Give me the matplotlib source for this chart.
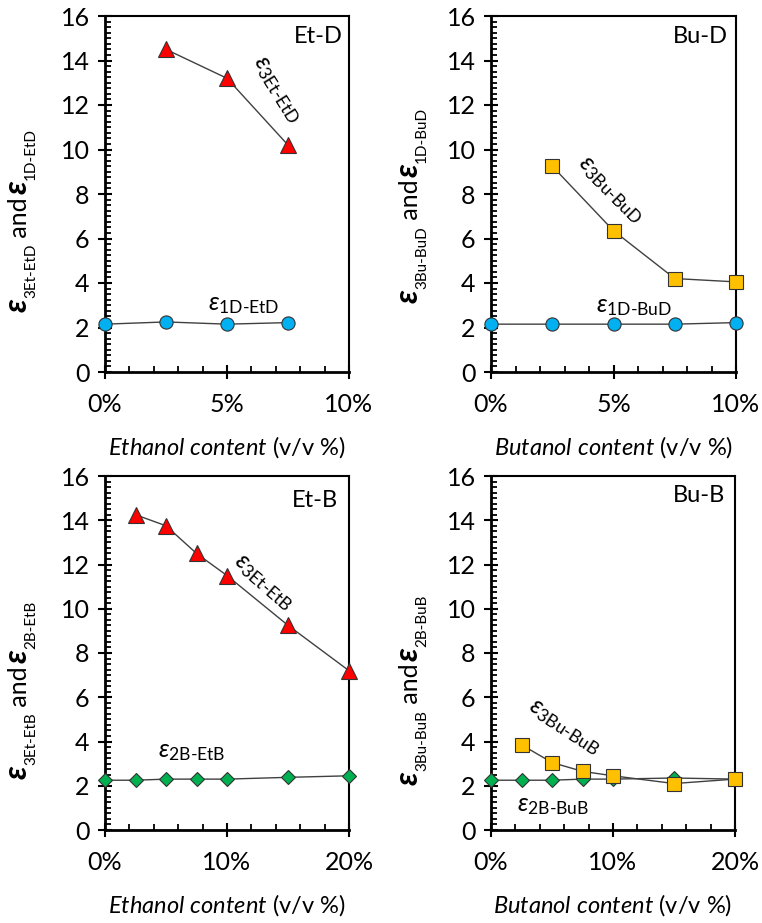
import numpy as np
import matplotlib
matplotlib.use("Agg")
import matplotlib.pyplot as plt
from matplotlib.ticker import MultipleLocator, FuncFormatter

plt.rcParams['font.family'] = ['Lato', 'DejaVu Sans']
plt.rcParams['mathtext.fontset'] = 'custom'
plt.rcParams['mathtext.rm'] = 'Lato'
plt.rcParams['mathtext.it'] = 'Lato:italic'
plt.rcParams['mathtext.bf'] = 'Lato:bold'

# ---- data ----
x_d = [0, 2.5, 5, 7.5, 10]
x_b = [0, 2.5, 5, 7.5, 10, 15, 20]

etd_x3 = [2.5, 5, 7.5]
etd_e3 = [14.5, 13.2, 10.2]
etd_x1 = [0, 2.5, 5, 7.5]
etd_e1 = [2.15, 2.25, 2.15, 2.22]

bud_x3 = [2.5, 5, 7.5, 10]
bud_e3 = [9.25, 6.35, 4.2, 4.05]
bud_e1 = [2.15, 2.15, 2.15, 2.15, 2.22]

etb_x3 = [2.5, 5, 7.5, 10, 15, 20]
etb_e3 = [14.25, 13.75, 12.5, 11.5, 9.25, 7.2]
etb_e2 = [2.25, 2.25, 2.3, 2.3, 2.3, 2.38, 2.45]

bub_x3 = [2.5, 5, 7.5, 10, 15, 20]
bub_e3 = [3.85, 3.05, 2.65, 2.45, 2.1, 2.3]
bub_e2 = [2.25, 2.25, 2.25, 2.3, 2.3, 2.35, 2.3]

RED = '#FF0000'
BLUE = '#00B0F0'
GOLD = '#FFC000'
GREEN = '#00B050'
LINE = '#404040'

W, H = 762, 923
fig = plt.figure(figsize=(W/100, H/100), dpi=100)
renderer = fig.canvas.get_renderer()

pos = {
    'tl': [105/W, 1-372/H, 244/W, 356/H],
    'tr': [491/W, 1-372/H, 245/W, 356/H],
    'bl': [105/W, 1-830/H, 244/W, 354/H],
    'br': [491/W, 1-830/H, 244/W, 354/H],
}


def eps(sub):
    return r'$\varepsilon_{\text{%s}}$' % sub


def vlabel(xb, yc, sub3, sub2):
    # vertical y label built from pieces: big eps, small subscript, "and"
    pieces = [('\u03b5', 23, 0, 'italic', 'bold'),
              (sub3, 11, 8, 'normal', 'normal'),
              (' and', 18, 0, 'normal', 'normal'),
              (' ', 8, 0, 'normal', 'normal'),
              ('\u03b5', 23, 0, 'italic', 'bold'),
              (sub2, 11, 8, 'normal', 'normal')]
    lens = []
    for s, fs, dx, st, wt in pieces:
        t = fig.text(0, 0, s.replace(' ', '\u00a0'), fontsize=fs, style=st, weight=wt)
        lens.append(t.get_window_extent(renderer).width)
        t.remove()
    y = yc + sum(lens) / 2
    for (s, fs, dx, st, wt), L in zip(pieces, lens):
        fig.text((xb + dx) / W, 1 - y / H, s.replace(' ', '\u00a0'), fontsize=fs,
                 style=st, weight=wt, rotation=90, rotation_mode='anchor',
                 ha='left', va='baseline')
        y -= L


def style_axis(ax, xmax, xmajor, xminor, alcohol):
    ax.set_xlim(0, xmax)
    ax.set_ylim(0, 16)
    ax.xaxis.set_major_locator(MultipleLocator(xmajor))
    ax.xaxis.set_minor_locator(MultipleLocator(xminor))
    ax.yaxis.set_major_locator(MultipleLocator(2))
    ax.yaxis.set_minor_locator(MultipleLocator(0.25))
    ax.xaxis.set_major_formatter(FuncFormatter(lambda v, p: '%d%%' % round(v)))
    ax.tick_params(which='major', direction='inout', length=10, width=1.5,
                   labelsize=18, color='black')
    ax.tick_params(which='minor', direction='in', length=4.5, width=1.3)
    ax.tick_params(axis='x', which='major', pad=10)
    ax.tick_params(axis='y', which='major', pad=6)
    for s in ['left', 'bottom']:
        ax.spines[s].set_linewidth(2)
    for s in ['top', 'right']:
        ax.spines[s].set_linewidth(1.5)
    ax.set_xlabel(r'$\mathit{%s\ content}$ (v/v %%)' % alcohol, fontsize=17, labelpad=13)


def series(ax, x, y, marker, color, ms):
    ax.plot(x, y, color=LINE, lw=1.0, marker=marker, ms=ms, mfc=color,
            mec='#333333', mew=0.8, clip_on=False, zorder=5)


# Et-D
ax = fig.add_axes(pos['tl'])
series(ax, etd_x3, etd_e3, '^', RED, 11)
series(ax, etd_x1, etd_e1, 'o', BLUE, 9.5)
style_axis(ax, 10, 5, 1, 'Ethanol')
vlabel(27, 220, '3Et-EtD', '1D-EtD')
ax.text(9.75, 15.1, 'Et-D', ha='right', va='center', fontsize=17)
ax.text(7.05, 12.7, eps('3Et-EtD'), rotation=-58, ha='center', va='center', fontsize=18)
ax.text(5.7, 3.05, eps('1D-EtD'), ha='center', va='center', fontsize=18)

# Bu-D
ax = fig.add_axes(pos['tr'])
series(ax, bud_x3, bud_e3, 's', GOLD, 10)
series(ax, x_d, bud_e1, 'o', BLUE, 9.5)
style_axis(ax, 10, 5, 1, 'Butanol')
vlabel(418, 205, '3Bu-BuD', '1D-BuD')
ax.text(9.65, 15.1, 'Bu-D', ha='right', va='center', fontsize=17)
ax.text(4.9, 8.2, eps('3Bu-BuD'), rotation=-45, ha='center', va='center', fontsize=18)
ax.text(5.85, 2.95, eps('1D-BuD'), ha='center', va='center', fontsize=18)

# Et-B
ax = fig.add_axes(pos['bl'])
series(ax, etb_x3, etb_e3, '^', RED, 11)
series(ax, x_b, etb_e2, 'D', GREEN, 7.5)
style_axis(ax, 20, 10, 2, 'Ethanol')
vlabel(27, 690, '3Et-EtB', '2B-EtB')
ax.text(19.1, 14.9, 'Et-B', ha='right', va='center', fontsize=17)
ax.text(13.0, 11.2, eps('3Et-EtB'), rotation=-41, ha='center', va='center', fontsize=18)
ax.text(7.1, 3.55, eps('2B-EtB'), ha='center', va='center', fontsize=18)

# Bu-B
ax = fig.add_axes(pos['br'])
series(ax, x_b, bub_e2, 'D', GREEN, 7.5)
series(ax, bub_x3, bub_e3, 's', GOLD, 10)
style_axis(ax, 20, 10, 2, 'Butanol')
vlabel(418, 690, '3Bu-BuB', '2B-BuB')
ax.text(19.2, 15.1, 'Bu-B', ha='right', va='center', fontsize=17)
ax.text(6.0, 4.65, eps('3Bu-BuB'), rotation=-33, ha='center', va='center', fontsize=18)
ax.text(5.1, 1.1, eps('2B-BuB'), ha='center', va='center', fontsize=18)

fig.savefig('out.png', dpi=100)
